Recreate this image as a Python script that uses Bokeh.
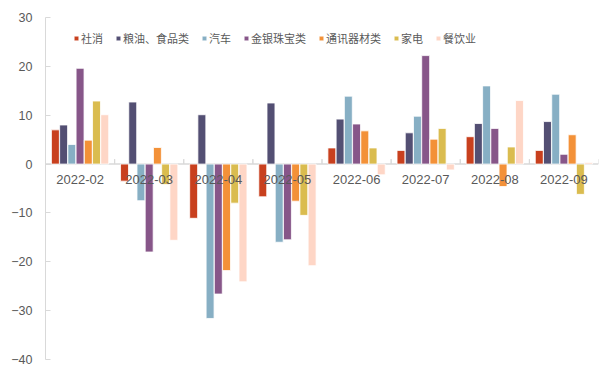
from bokeh.plotting import figure
from bokeh.models import ColumnDataSource, FixedTicker, Span, Legend, LegendItem
from bokeh.transform import dodge
from bokeh.core.properties import value
from bokeh.embed import file_html
from bokeh.resources import INLINE

months = ["2022-02", "2022-03", "2022-04", "2022-05", "2022-06", "2022-07", "2022-08", "2022-09"]
series_names = ["社消", "粮油、食品类", "汽车", "金银珠宝类", "通讯器材类", "家电", "餐饮业"]
retail_total = [7.0, -3.5, -11.1, -6.7, 3.3, 2.8, 5.6, 2.8]
grain_food = [8.0, 12.7, 10.1, 12.5, 9.2, 6.4, 8.3, 8.7]
autos = [4.0, -7.5, -31.6, -16.0, 13.9, 9.8, 16.0, 14.3]
jewelry = [19.6, -18.0, -26.6, -15.5, 8.2, 22.2, 7.3, 2.0]
telecom = [4.9, 3.4, -21.8, -7.6, 6.8, 5.1, -4.6, 6.0]
appliances = [12.9, -4.2, -8.0, -10.5, 3.3, 7.3, 3.5, -6.2]
catering = [10.1, -15.6, -24.1, -20.8, -2.2, -1.2, 13.0, 0.3]
y_ticks = [-40, -30, -20, -10, 0, 10, 20, 30]

colors = ["#C8401E", "#534F73", "#87AFC4", "#875689", "#F39138", "#DABC4F", "#FED6C6"]
series_values = [retail_total, grain_food, autos, jewelry, telecom, appliances, catering]

data = {"month": months, "zero": [0] * len(months), "tick_top": [1.0] * len(months)}
keys = []
for i, vals in enumerate(series_values):
    k = f"s{i}"
    keys.append(k)
    data[k] = vals
src = ColumnDataSource(data)

p = figure(x_range=months, y_range=(-40, 30), width=613, height=368,
           output_backend="svg", toolbar_location=None, x_axis_location=None,
           min_border_left=45, min_border_right=15, min_border_top=17, min_border_bottom=9)
p.x_range.range_padding = 0
p.outline_line_color = None
p.xgrid.visible = False
p.ygrid.visible = False
p.background_fill_color = "white"

zero_line = Span(location=0, dimension="width", line_color="#d9d9d9", line_width=1.5, level="underlay")
p.add_layout(zero_line)

# group boundary ticks on the zero line
p.segment(x0=dodge("month", -0.5, range=p.x_range), y0="zero",
          x1=dodge("month", -0.5, range=p.x_range), y1="tick_top",
          source=src, line_color="#d9d9d9", line_width=1, level="underlay")
p.segment(x0=dodge("month", 0.5, range=p.x_range), y0="zero",
          x1=dodge("month", 0.5, range=p.x_range), y1="tick_top",
          source=src, line_color="#d9d9d9", line_width=1, level="underlay")

step = 0.119
items = []
for i, k in enumerate(keys):
    r = p.vbar(x=dodge("month", (i - 3) * step, range=p.x_range), top=k, bottom=0,
               width=0.115, source=src, fill_color=colors[i], line_color="white", line_width=0.8)
    items.append(LegendItem(label=series_names[i], renderers=[r]))

p.text(x="month", y="zero", text="month", source=src, y_offset=15,
       text_align="center", text_baseline="middle", text_font=value("Liberation Sans"),
       text_font_size="13px", text_color="#595959")

legend = Legend(items=items, orientation="horizontal", location=(28, 313),
                glyph_width=6, glyph_height=6, label_standoff=2, spacing=12,
                padding=0, margin=0, border_line_color=None, background_fill_alpha=0,
                label_text_font="Noto Sans CJK SC", label_text_font_size="11px",
                label_text_color="#595959", label_height=12)
p.add_layout(legend, "center")

ax = p.yaxis[0]
ax.ticker = FixedTicker(ticks=y_ticks)
ax.axis_line_color = "#d9d9d9"
ax.major_tick_line_color = "#d9d9d9"
ax.major_tick_in = 5
ax.major_tick_out = 0
ax.minor_tick_line_color = None
ax.major_label_text_font = "Liberation Sans"
ax.major_label_text_font_size = "12.5px"
ax.major_label_text_color = "#595959"
ax.major_label_standoff = 13

open("out.html", "w").write(file_html(p, INLINE))
